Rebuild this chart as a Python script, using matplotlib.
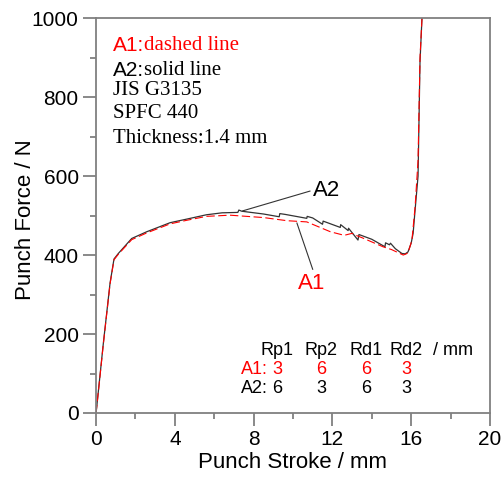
import matplotlib
matplotlib.use("Agg")
import matplotlib.pyplot as plt
from matplotlib.ticker import MultipleLocator

# --------------------------------------------
# Data (stroke in mm, force in N)
# --------------------------------------------
# A2: solid line (Rp1=6, Rp2=3, Rd1=6, Rd2=3)
a2_stroke = [0, 0.07, 0.37, 0.71, 0.91, 1.13, 1.81, 2.57, 3.76, 4.6, 5.6, 6.4,
             7.2, 7.25, 7.4, 8.5, 9.3, 9.33, 9.6, 10.7, 10.72, 11.0, 11.5,
             11.53, 12.4, 12.42, 12.8, 12.82, 13.3, 13.35, 14.0, 14.67, 14.7,
             14.9, 14.95, 15.2, 15.53, 15.7, 15.84, 16.0, 16.1, 16.2, 16.35,
             16.45, 16.55]
a2_force = [0, 33, 177, 329, 390, 404, 442, 459, 482, 491, 502, 507,
            508, 514, 511, 504, 497, 505, 503, 493, 498, 494, 478,
            486, 470, 477, 462, 468, 438, 452, 440, 421, 431,
            426, 430, 416, 404, 403, 408, 430, 455, 514, 600,
            890, 1000]

# A1: dashed line (Rp1=3, Rp2=6, Rd1=6, Rd2=3)
a1_stroke = [0, 0.07, 0.37, 0.71, 0.91, 1.13, 1.81, 2.57, 3.76, 4.6, 5.6, 6.8,
             8.5, 9.7, 10.7, 11.9, 12.6, 13.0, 13.2, 13.55, 14.57, 15.0, 15.6,
             15.84, 16.04, 16.2, 16.35, 16.45, 16.55]
a1_force = [0, 32, 175, 327, 388, 402, 439, 456, 479, 488, 498, 501,
            495, 487, 484, 459, 450, 455, 450, 443, 421, 414, 400,
            405, 438, 522, 640, 900, 1000]

info_sans = ["A1:", "A2:", "", "", ""]
info_serif = ["dashed line", "solid line", "JIS G3135", "SPFC 440", "Thickness:1.4 mm"]
info_colors = ["red", "black", "black", "black", "black"]

param_names = ["Rp1", "Rp2", "Rd1", "Rd2"]
a1_params = ["3", "6", "6", "3"]
a2_params = ["6", "3", "6", "3"]

plt.rcParams["font.family"] = ["Liberation Sans", "DejaVu Sans"]
plt.rcParams["lines.scale_dashes"] = False

fig = plt.figure(figsize=(5.03, 4.78), dpi=100)
ax = fig.add_axes([0.191, 0.136, 0.783, 0.826])

ax.plot(a2_stroke, a2_force, color="#333333", lw=0.9)
ax.plot(a1_stroke, a1_force, color="red", lw=0.8, dashes=(6, 2.5))

ax.set_xlim(0, 20)
ax.set_ylim(0, 1000)
ax.xaxis.set_major_locator(MultipleLocator(4))
ax.xaxis.set_minor_locator(MultipleLocator(2))
ax.yaxis.set_major_locator(MultipleLocator(200))
ax.yaxis.set_minor_locator(MultipleLocator(100))
ax.tick_params(which="both", direction="out", color="#808080", width=1.3,
               labelsize=15, top=False, right=False)
ax.tick_params(which="major", length=9.5, pad=3)
ax.tick_params(which="minor", length=4.5)
for s in ax.spines.values():
    s.set_color("#808080")
    s.set_linewidth(1.3)

ax.set_xlabel("Punch Stroke / mm", fontsize=16)
ax.set_ylabel("Punch Force / N", fontsize=16)
ax.xaxis.set_label_coords(0.5, -0.1)
ax.yaxis.set_label_coords(-0.152, 0.49)

# info block, sans prefix + serif text
ys = [917, 853, 792, 734, 671]
for sans, serif, c, y in zip(info_sans, info_serif, info_colors, ys):
    t = ax.text(0.86, y, sans, fontsize=15, color=c, va="baseline")
    ax.annotate(serif, xy=(1, 0), xycoords=t, fontsize=15, color=c,
                family=["Liberation Serif"], va="bottom")

# curve labels
ax.plot([7.45, 10.86], [512, 562], color="#333333", lw=0.8)
ax.text(11.0, 563, "A2", fontsize=16, va="center", ha="left")
ax.plot([10.2, 11.0], [481, 364], color="#333333", lw=0.8)
ax.text(10.94, 329, "A1", fontsize=16, va="center", ha="center", color="red")

# parameter table
cols = [9.19, 11.42, 13.7, 15.74]
for x, name, p1, p2 in zip(cols, param_names, a1_params, a2_params):
    ax.text(x, 159, name, fontsize=13, ha="center", va="center")
    ax.text(x, 109, p1, fontsize=13, ha="center", va="center", color="red")
    ax.text(x, 63, p2, fontsize=13, ha="center", va="center")
ax.text(17.1, 159, "/ mm", fontsize=13, ha="left", va="center")
ax.text(8.7, 109, "A1:", fontsize=13, ha="right", va="center", color="red")
ax.text(8.7, 63, "A2:", fontsize=13, ha="right", va="center")

fig.savefig("out.png", dpi=100)
